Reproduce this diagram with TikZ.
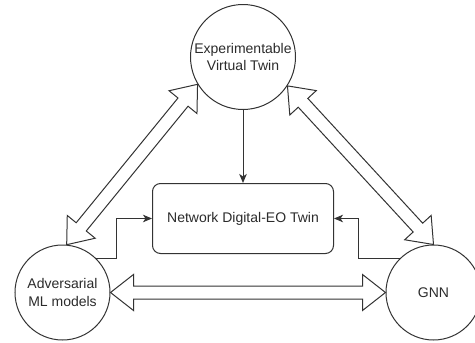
\documentclass[tikz,border=0pt]{standalone}
\usepackage{fontspec}
\setmainfont{Liberation Sans}
\usetikzlibrary{calc,arrows.meta}

\definecolor{strokec}{HTML}{333333}
\definecolor{labelc}{HTML}{2B2B2B}

\tikzset{
  twin/.style={circle, draw=strokec, line width=1pt, inner sep=0pt,
    align=center, text=labelc, font=\fontsize{14}{17.5}\selectfont},
  corebox/.style={rectangle, rounded corners=8pt, draw=strokec, line width=1pt,
    minimum width=181pt, minimum height=70pt, text=labelc,
    font=\fontsize{14}{17}\selectfont},
  feed/.style={draw=strokec, line width=1pt,
    -{Stealth[length=9pt, width=7.5pt, inset=2.5pt]}},
  flexline/.style={draw=strokec, line width=1pt, line join=miter, fill=white},
}

% hollow double-headed block arrow from #1 to #2
\newcommand\hollowlink[2]{%
  \path let \p1=($(#2)-(#1)$), \n1={atan2(\y1,\x1)}, \n2={veclen(\x1,\y1)} in
    \pgfextra{\xdef\hlAngle{\n1}\xdef\hlLength{\n2}};
  \begin{scope}[shift={(#1)}, rotate=\hlAngle]
    \draw[flexline] (0pt,0pt) -- (23pt,18pt) -- (23pt,6.5pt)
      -- ({\hlLength-23pt},6.5pt) -- ({\hlLength-23pt},18pt)
      -- ({\hlLength},0pt)
      -- ({\hlLength-23pt},-18pt) -- ({\hlLength-23pt},-6.5pt)
      -- (23pt,-6.5pt) -- (23pt,-18pt) -- cycle;
  \end{scope}}

\begin{document}
\begin{tikzpicture}[x=1pt, y=-1pt]
  \useasboundingbox (0,0) rectangle (475,343);
  \clip (0,0) rectangle (475,343);

  % the three twins and the central twin model
  \node[twin, minimum size=105pt] (vt) at (243,57) {Experimentable\\Virtual Twin};
  \node[twin, minimum size=95pt] (adv) at (62.5,292.5) {Adversarial\\ML models};
  \node[twin, minimum size=95pt] (gnn) at (433.5,292.5) {GNN};
  \node[corebox] (net) at (243,218.5) {Network Digital-EO Twin};

  % end points of the block arrows on the circles
  \coordinate (vtL) at (vt.211);
  \coordinate (vtR) at (vt.-33);
  \coordinate (advT) at (adv.85);
  \coordinate (gnnT) at (gnn.north);
  \coordinate (advE) at (adv.east);
  \coordinate (gnnW) at (gnn.west);

  % bidirectional exchanges between the twins
  \hollowlink{advT}{vtL}
  \hollowlink{gnnT}{vtR}
  \hollowlink{advE}{gnnW}

  % feeds into the network twin
  \draw[feed] (vt.south) -- (net.north);
  \draw[feed] (adv.45) -- ++(20,0) |- (net.west);
  \draw[feed] (gnn.135) -- ++(-41,0) |- (net.east);
\end{tikzpicture}
\end{document}
